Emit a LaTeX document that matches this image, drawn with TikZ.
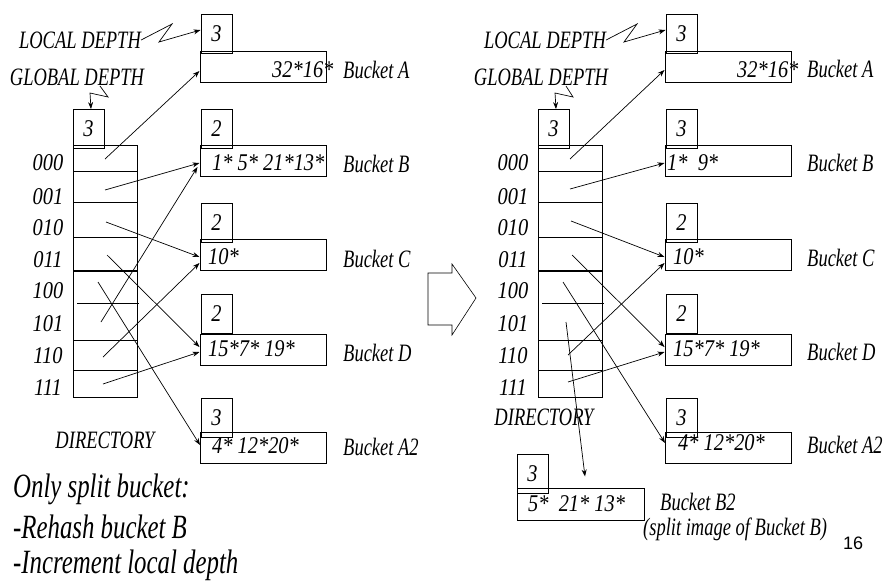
\documentclass[tikz,border=0pt]{standalone}
\usepackage{fontspec}
\setmainfont{Liberation Serif}
\newfontfamily\lblfont[FakeStretch=0.74]{Liberation Serif}
\newfontfamily\numfont[FakeStretch=0.85]{Liberation Serif}
\newfontfamily\notefont[FakeStretch=0.73]{Liberation Serif}
\newfontfamily\pagefont{Liberation Sans}
\usetikzlibrary{arrows.meta}
\begin{document}
\begin{tikzpicture}[x=1pt,y=-1pt,
  lbl/.style={font=\lblfont\itshape\fontsize{25}{25}\selectfont, inner sep=0},
  num/.style={font=\numfont\itshape\fontsize{24}{24}\selectfont, inner sep=0},
  note/.style={font=\notefont\itshape\fontsize{34}{34}\selectfont, inner sep=0, anchor=west},
  ldbox/.style={draw, line width=0.9pt, minimum width=31pt, minimum height=39pt, inner sep=0, num},
  bkt/.style={draw, line width=1pt, minimum width=126pt, minimum height=31pt, inner sep=0},
  dirbox/.style={draw, line width=1pt, minimum width=64pt, minimum height=252pt, inner sep=0},
  arr/.style={-{Stealth[length=7pt,width=5pt]}, line width=0.7pt},
  rowline/.style={line width=0.9pt},
  content/.style={num, anchor=west},
  bname/.style={lbl, anchor=west}]
\useasboundingbox (0,0) rectangle (890,581);

% ---------------- before the split ----------------
\node[lbl] (ldL) at (80,40) {LOCAL DEPTH};
\node[lbl] (gdL) at (77,77) {GLOBAL DEPTH};
\node[ldbox] (gL) at (88.5,129) {3};
\node[dirbox] (dirL) at (105,271) {};
\foreach \y in {171,202,237,340,370} \draw[rowline] (73,\y) -- (137,\y);
\draw[line width=1.5pt] (73,271) -- (137,271);
\draw[rowline] (77,303) -- (139,303);
\foreach \t/\y in {000/163,001/197,010/228,011/260,100/291,101/324,110/356,111/388}
  \node[num] (L\t) at (48,\y) {\t};
\node[lbl] (dirnameL) at (105,440) {DIRECTORY};

% buckets
\node[bkt] (bAL) at (263,66.5) {};
\node[ldbox] (lAL) at (216.5,33.5) {3};
\node[bkt] (bBL) at (263,160.5) {};
\node[ldbox] (lBL) at (216.5,129) {2};
\node[bkt] (bCL) at (263,255) {};
\node[ldbox] (lCL) at (216.5,222.5) {2};
\node[bkt] (bDL) at (263,349.5) {};
\node[ldbox] (lDL) at (216.5,314) {2};
\node[bkt] (bA2L) at (263.5,448) {};
\node[ldbox] (lA2L) at (216.5,417.5) {3};

\node[content] (cAL) at (272,70) {32*16*};
\node[content] (cBL) at (212,163) {1*\ 5*\ 21*13*};
\node[content] (cCL) at (208,257) {10*};
\node[content] (cDL) at (208,349) {15*7*\ 19*};
\node[content] (cA2L) at (212,446) {4*\ 12*20*};

\node[bname] (nAL) at (343,70) {Bucket A};
\node[bname] (nBL) at (343,164) {Bucket B};
\node[bname] (nCL) at (343,259) {Bucket C};
\node[bname] (nDL) at (343,353) {Bucket D};
\node[bname] (nA2L) at (343,447) {Bucket A2};

% depth pointers
\draw[arr] (ldL.east) -- (172,24) -- (159,42) -- ([yshift=3.5pt]lAL.west);
\draw[arr] (100,86) -- (108,97) -- (90,93) -- ([xshift=2.5pt]gL.north);

% directory entries
\coordinate (sL000) at (105,159);
\coordinate (sL001) at (105,190);
\coordinate (sL010) at (106,222);
\coordinate (sL011) at (107,255);
\coordinate (sL100) at (98,282);
\coordinate (sL101) at (101,322);
\coordinate (sL110) at (103,357);
\coordinate (sL111) at (103,384);
\draw[arr] (sL000) -- ([yshift=-4.5pt]bAL.west);
\draw[arr] (sL001) -- ([yshift=-2.5pt]bBL.west);
\draw[arr] (sL101) -- ([xshift=-2pt,yshift=-6.5pt]bBL.west);
\draw[arr] (sL010) -- ([yshift=-2pt]bCL.west);
\draw[arr] (sL110) -- ([yshift=-8pt]bCL.west);
\draw[arr] (sL011) -- ([yshift=2.5pt]bDL.west);
\draw[arr] (sL111) -- ([yshift=-2.5pt]bDL.west);
\draw[arr] (sL100) -- ([yshift=3pt]bA2L.west);

% notes
\node[note] (n1) at (13,489) {Only split bucket:};
\node[note] (n2) at (13,527) {-Rehash bucket B};
\node[note] (n3) at (13,565) {-Increment local depth};

% ---------------- transition ----------------
\draw[line width=0.6pt] (428,273) -- (452,273) -- (452,264) -- (476,298)
  -- (452,335) -- (452,325) -- (428,325) -- cycle;

% ---------------- after the split ----------------
\node[lbl] (ldR) at (545,40) {LOCAL DEPTH};
\node[lbl] (gdR) at (541,77) {GLOBAL DEPTH};
\node[ldbox] (gR) at (553.5,129) {3};
\node[dirbox] (dirR) at (570,271) {};
\foreach \y in {171,202,237,340,370} \draw[rowline] (538,\y) -- (602,\y);
\draw[line width=1.5pt] (538,271) -- (602,271);
\draw[rowline] (542,303) -- (604,303);
\foreach \t/\y in {000/163,001/197,010/228,011/260,100/291,101/324,110/356,111/388}
  \node[num] (R\t) at (513,\y) {\t};
\node[lbl] (dirnameR) at (544,417) {DIRECTORY};

\node[bkt] (bAR) at (728,66.5) {};
\node[ldbox] (lAR) at (681.5,33.5) {3};
\node[bkt] (bBR) at (728,160.5) {};
\node[ldbox] (lBR) at (681.5,129) {3};
\node[bkt] (bCR) at (728,255) {};
\node[ldbox] (lCR) at (681.5,222.5) {2};
\node[bkt] (bDR) at (728,349.5) {};
\node[ldbox] (lDR) at (681.5,314) {2};
\node[bkt] (bA2R) at (728.5,448) {};
\node[ldbox] (lA2R) at (681.5,417.5) {3};
\node[bkt, minimum width=127pt, minimum height=32pt] (bB2R) at (580.5,504) {};
\node[ldbox] (lB2R) at (532.5,473.5) {3};

\node[content] (cAR) at (737,70) {32*16*};
\node[content] (cBR) at (667,163) {1*\ \ 9*};
\node[content] (cCR) at (673,257) {10*};
\node[content] (cDR) at (673,349) {15*7*\ 19*};
\node[content] (cA2R) at (678,443) {4*\ 12*20*};
\node[content] (cB2R) at (528,504) {5*\ \ 21*\ 13*};

\node[bname] (nAR) at (807,69) {Bucket A};
\node[bname] (nBR) at (807,163) {Bucket B};
\node[bname] (nCR) at (807,258) {Bucket C};
\node[bname] (nDR) at (807,352) {Bucket D};
\node[bname] (nA2R) at (807,445) {Bucket A2};
\node[bname] (nB2R) at (660,502) {Bucket B2};
\node[bname] (imgR) at (643,529) {(split image of Bucket B)};

\draw[arr] (ldR.east) -- (637,24) -- (624,42) -- ([yshift=3.5pt]lAR.west);
\draw[arr] (566,86) -- (573,97) -- (555,93) -- ([xshift=2.5pt]gR.north);

\coordinate (sR000) at (570,159);
\coordinate (sR001) at (570,189);
\coordinate (sR010) at (571,221);
\coordinate (sR011) at (572,255);
\coordinate (sR100) at (563,282);
\coordinate (sR101) at (566,322);
\coordinate (sR110) at (568,355);
\coordinate (sR111) at (568,382);
\draw[arr] (sR000) -- ([yshift=-3.5pt]bAR.west);
\draw[arr] (sR001) -- ([yshift=-2.5pt]bBR.west);
\draw[arr] (sR010) -- ([yshift=-2pt]bCR.west);
\draw[arr] (sR110) -- ([yshift=-8pt]bCR.west);
\draw[arr] (sR011) -- ([yshift=2.5pt]bDR.west);
\draw[arr] (sR111) -- ([yshift=-2.5pt]bDR.west);
\draw[arr] (sR100) -- ([yshift=5pt]bA2R.west);
\draw[arr] (sR101) -- ([xshift=4.5pt,yshift=11pt]bB2R.north);

% page number
\node[font=\pagefont\fontsize{18}{18}\selectfont, inner sep=0, anchor=west] (pg) at (843,543) {16};
\end{tikzpicture}
\end{document}
